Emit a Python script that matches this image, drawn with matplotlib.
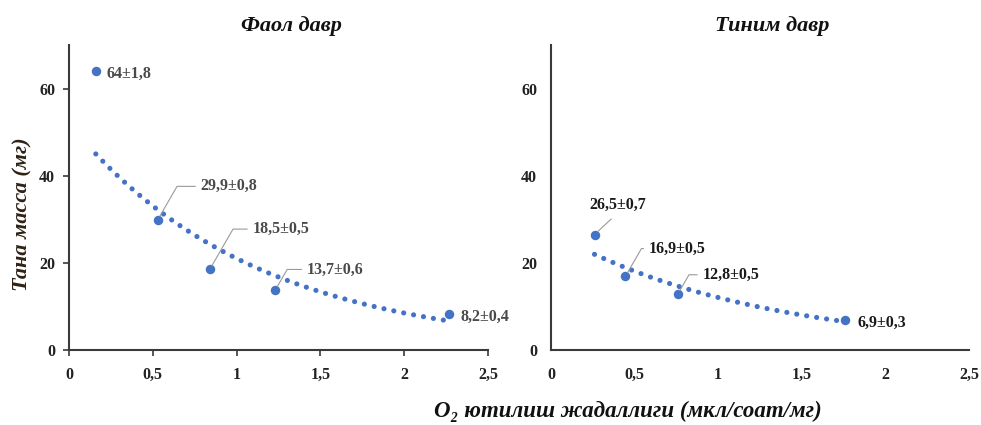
import numpy as np
import matplotlib
matplotlib.use("Agg")
import matplotlib.pyplot as plt

plt.rcParams['font.family'] = ['Liberation Serif', 'DejaVu Serif']

# Data
active_x = [0.16, 0.53, 0.84, 1.23, 2.27]
active_y = [64.0, 29.9, 18.5, 13.7, 8.2]
active_labels = ["64±1,8", "29,9±0,8", "18,5±0,5", "13,7±0,6", "8,2±0,4"]

rest_x = [0.26, 0.445, 0.758, 1.758]
rest_y = [26.5, 16.9, 12.8, 6.9]
rest_labels = ["26,5±0,7", "16,9±0,5", "12,8±0,5", "6,9±0,3"]

titles = ["Фаол давр", "Тиним давр"]
xticks = [0, 0.5, 1, 1.5, 2, 2.5]
xticklabels = ["0", "0,5", "1", "1,5", "2", "2,5"]
yticks = [0, 20, 40, 60]

blue = '#4472C4'
spine_c = '#3a3a3a'

fig = plt.figure(figsize=(9.81, 4.25), dpi=100)
ax1 = fig.add_axes([0.0703, 0.1765, 0.4272, 0.7177])
ax2 = fig.add_axes([0.5617, 0.1765, 0.4261, 0.7177])

# label offsets (points), and leader style
ann1 = [
    dict(off=(8, -2), leader=None),
    dict(off=(31, 24), leader='angle'),
    dict(off=(31, 29), leader='angle'),
    dict(off=(23, 15), leader='angle'),
    dict(off=(8, -2), leader=None),
]
ann2 = [
    dict(off=(-4, 21), leader='straight'),
    dict(off=(17, 20), leader='angle'),
    dict(off=(18, 14), leader='angle'),
    dict(off=(9, -2), leader=None),
]

def draw(ax, xs, ys, labels, anns, title, label_color, show_ticks):
    xs = np.asarray(xs); ys = np.asarray(ys)
    b, lna = np.polyfit(xs, np.log(ys), 1)
    tx = np.linspace(xs.min(), xs.max(), 300)
    ax.plot(tx, np.exp(lna) * np.exp(b * tx), color=blue, lw=3.7,
            ls=(0, (0.01, 1.95)), dash_capstyle='round', zorder=2)
    ax.plot(xs, ys, 'o', color=blue, ms=5.8, zorder=3)
    for x, y, lab, a in zip(xs, ys, labels, anns):
        kw = dict(textcoords='offset points', xytext=a['off'], fontsize=11.5,
                  fontweight='bold', color=label_color, va='center', ha='left')
        if a['leader'] == 'angle':
            kw['arrowprops'] = dict(arrowstyle='-', color='#9a9a9a', lw=0.8,
                                    shrinkA=2, shrinkB=3, relpos=(0, 0.5),
                                    connectionstyle='angle,angleA=0,angleB=60,rad=0')
        elif a['leader'] == 'straight':
            kw['arrowprops'] = dict(arrowstyle='-', color='#9a9a9a', lw=0.8,
                                    shrinkA=3, shrinkB=3, relpos=(0.5, 0))
        ax.annotate(lab, xy=(x, y), **kw)
    ax.set_xlim(0, 2.5)
    ax.set_ylim(0, 70)
    ax.set_xticks(xticks)
    ax.set_xticklabels(xticklabels)
    ax.set_yticks(yticks)
    for s in ['top', 'right']:
        ax.spines[s].set_visible(False)
    for s in ['left', 'bottom']:
        ax.spines[s].set_color(spine_c)
        ax.spines[s].set_linewidth(1.5)
    if show_ticks:
        ax.tick_params(axis='x', direction='out', length=4, width=1.2, color=spine_c, pad=8)
        ax.tick_params(axis='y', direction='out', length=4, width=1.2, color=spine_c, pad=6)
    else:
        ax.tick_params(axis='both', length=0)
        ax.tick_params(axis='x', pad=12)
        ax.tick_params(axis='y', pad=10)
    for t in ax.get_xticklabels() + ax.get_yticklabels():
        t.set_fontsize(11.5)
        t.set_fontweight('bold')
        t.set_color('#222222')
    ax.set_title(title, fontsize=16, fontweight='bold', fontstyle='italic',
                 x=0.53, y=1.02, color='#111111')

draw(ax1, active_x, active_y, active_labels, ann1, titles[0], '#4a4a4a', True)
draw(ax2, rest_x, rest_y, rest_labels, ann2, titles[1], '#1a1a1a', False)

ax1.set_ylabel("Тана масса (мг)", fontsize=16, fontweight='bold', fontstyle='italic',
               color='#2e2216')
ax1.yaxis.set_label_coords(-0.088, 0.446)
fig.text(0.64, 0.033, "O₂ ютилиш жадаллиги (мкл/соат/мг)", fontsize=16.5,
         fontweight='bold', fontstyle='italic', ha='center', va='center', color='#111111')

fig.savefig("out.png", dpi=100, facecolor='white')
